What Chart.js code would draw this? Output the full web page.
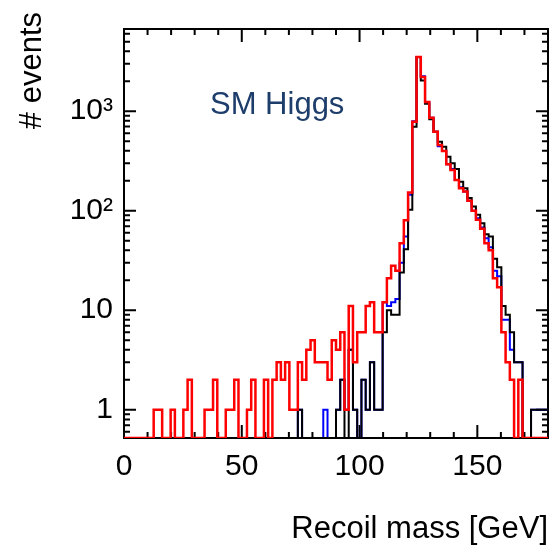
<!DOCTYPE html>
<html>
<head>
<meta charset="utf-8">
<title>SM Higgs recoil mass</title>
<script src="https://cdn.jsdelivr.net/npm/chart.js@4/dist/chart.umd.min.js"></script>
<style>
  html, body { margin: 0; padding: 0; background: #fff; }
  #chart { display: block; }
</style>
</head>
<body>
<canvas id="chart" width="556" height="549"></canvas>
<script>
// Recoil mass histogram: 100 bins of 1.8 GeV between 0 and 180 GeV
const X_MIN = 0;
const X_MAX = 180;
const BIN_WIDTH = 1.8;
const Y_MIN = 0.52;
const Y_MAX = 6700;

const xTicks = [0, 50, 100, 150];
const yTicks = [1, 10, 100, 1000];
const yTickLabels = ["1", "10", "10²", "10³"];

// events per bin, 0 = empty bin (drawn on the bottom edge)
const blackCounts = [
  0, 0, 0, 0, 0, 0, 0, 0, 0, 0,
  0, 0, 0, 0, 0, 0, 0, 0, 0, 0,
  0, 0, 0, 0, 0, 0, 0, 0, 0, 0,
  0, 0, 0, 0, 0, 0, 0, 0, 0, 0,
  0, 1, 0, 0, 0, 0, 0, 0, 0, 0,
  1, 2, 0, 4, 1, 0, 2, 1, 3, 1,
  1, 6, 10, 9, 9, 24, 41, 102, 697, 3500,
  2040, 1190, 830, 620, 494, 440, 349, 300, 263, 196,
  168, 134, 110, 91, 75, 58, 55, 33, 27, 11,
  9, 6, 3, 3, 0, 0, 1, 1, 1, 1
];
const blueCounts = [
  0, 0, 0, 0, 0, 0, 0, 0, 0, 0,
  0, 0, 0, 0, 0, 0, 0, 0, 0, 0,
  0, 0, 0, 0, 0, 0, 0, 0, 0, 0,
  0, 0, 0, 0, 0, 0, 0, 0, 0, 0,
  0, 1, 0, 0, 0, 0, 0, 1, 0, 0,
  1, 2, 1, 4, 1, 0, 2, 1, 3, 1,
  1, 12, 11, 12, 13, 30, 55, 145, 794, 3500,
  2250, 1240, 858, 622, 445, 398, 293, 262, 204, 172,
  156, 126, 100, 84, 68, 53, 43, 25, 22, 8,
  8, 4, 3, 3, 0, 0, 1, 1, 1, 1
];
const redCounts = [
  0, 0, 0, 0, 0, 0, 0, 1, 1, 0,
  0, 1, 0, 0, 1, 2, 0, 0, 0, 1,
  1, 2, 0, 0, 1, 1, 2, 0, 0, 1,
  2, 0, 0, 2, 0, 2, 3, 2, 3, 1,
  1, 3, 2, 4, 5, 3, 3, 3, 2, 5,
  4, 6, 1, 11, 3, 6, 6, 11, 12, 6,
  6, 12, 21, 28, 25, 47, 80, 152, 782, 3500,
  2205, 1240, 858, 622, 457, 398, 293, 257, 204, 168,
  156, 126, 100, 81, 66, 47, 40, 21, 17, 6,
  3, 2, 0, 2, 0, 0, 0, 0, 0, 0
];

const FONT = '"Liberation Sans", Arial, Helvetica, sans-serif';

// one point per lower bin edge, plus the upper edge of the last bin.
// empty bins sit on the lower edge of the log axis (log scale can't take 0)
function histPoints(counts){
  const pts = counts.map((c, i) => ({ x: X_MIN + i * BIN_WIDTH, y: c > 0 ? c : Y_MIN }));
  pts.push({ x: X_MAX, y: pts[pts.length - 1].y });
  return pts;
}

function histDataset(label, counts, color, width, order){
  return {
    label: label,
    data: histPoints(counts),
    borderColor: color,
    backgroundColor: color,
    borderWidth: width,
    stepped: true,
    pointRadius: 0,
    fill: false,
    order: order
  };
}

// ROOT-like frame with inward ticks on all four sides
const frameTicks = {
  id: "frameTicks",
  beforeDatasetsDraw(chart){
    const { ctx, chartArea: a, scales: { x, y } } = chart;
    ctx.save();
    ctx.strokeStyle = "#000";
    ctx.lineWidth = 2;
    ctx.beginPath();
    for (let v = X_MIN; v <= X_MAX; v += 10){
      const px = x.getPixelForValue(v);
      const len = xTicks.includes(v) ? 13 : 6;
      ctx.moveTo(px, a.bottom); ctx.lineTo(px, a.bottom - len);
      ctx.moveTo(px, a.top); ctx.lineTo(px, a.top + len);
    }
    for (let e = -1; e <= 3; e++){
      for (let k = 1; k <= 9; k++){
        const v = k * Math.pow(10, e);
        if (v < Y_MIN || v > Y_MAX) continue;
        const py = y.getPixelForValue(v);
        const len = k === 1 ? 12 : 6;
        ctx.moveTo(a.left, py); ctx.lineTo(a.left + len, py);
        ctx.moveTo(a.right, py); ctx.lineTo(a.right - len, py);
      }
    }
    ctx.stroke();
    ctx.strokeRect(a.left, a.top, a.right - a.left, a.bottom - a.top);
    ctx.restore();
  }
};

// y title at the top of the axis and the sample label
const extraText = {
  id: "extraText",
  afterDraw(chart){
    const { ctx, chartArea: a } = chart;
    ctx.save();
    ctx.fillStyle = "#1d3d6b";
    ctx.font = "31px " + FONT;
    ctx.textAlign = "left";
    ctx.textBaseline = "alphabetic";
    ctx.fillText("SM Higgs", a.left + 86, a.top + 85);

    ctx.fillStyle = "#000";
    ctx.translate(32, 12);
    ctx.rotate(-Math.PI / 2);
    ctx.textAlign = "right";
    ctx.textBaseline = "middle";
    ctx.fillText("# events", 0, 0);
    ctx.restore();
  }
};

new Chart(document.getElementById("chart"), {
  type: "line",
  data: {
    datasets: [
      histDataset("red", redCounts, "#ff0000", 2.5, 1),
      histDataset("black", blackCounts, "#000000", 2, 2),
      histDataset("blue", blueCounts, "#0000ff", 2, 3)
    ]
  },
  options: {
    responsive: false,
    animation: false,
    devicePixelRatio: 1,
    layout: { padding: { top: 26, right: 8, left: 0, bottom: 0 } },
    plugins: { legend: { display: false }, tooltip: { enabled: false } },
    scales: {
      x: {
        type: "linear",
        min: X_MIN,
        max: X_MAX,
        bounds: "data",
        grid: { display: false, drawTicks: false },
        border: { display: false },
        afterBuildTicks: s => { s.ticks = xTicks.map(v => ({ value: v })); },
        afterFit: s => { s.height = 111; },
        ticks: {
          autoSkip: false,
          maxRotation: 0,
          padding: 11,
          color: "#000",
          font: { family: FONT, size: 30 }
        },
        title: {
          display: true,
          text: "Recoil mass [GeV]",
          align: "end",
          color: "#000",
          padding: { top: 0, bottom: 1 },
          font: { family: FONT, size: 31 }
        }
      },
      y: {
        type: "logarithmic",
        min: Y_MIN,
        max: Y_MAX,
        bounds: "data",
        grid: { display: false, drawTicks: false },
        border: { display: false },
        afterBuildTicks: s => { s.ticks = yTicks.map(v => ({ value: v })); },
        afterFit: s => { s.width = 124; },
        ticks: {
          autoSkip: false,
          padding: 11,
          color: "#000",
          font: { family: FONT, size: 30 },
          callback: v => yTickLabels[yTicks.indexOf(v)]
        }
      }
    }
  },
  plugins: [frameTicks, extraText]
});
</script>
</body>
</html>
